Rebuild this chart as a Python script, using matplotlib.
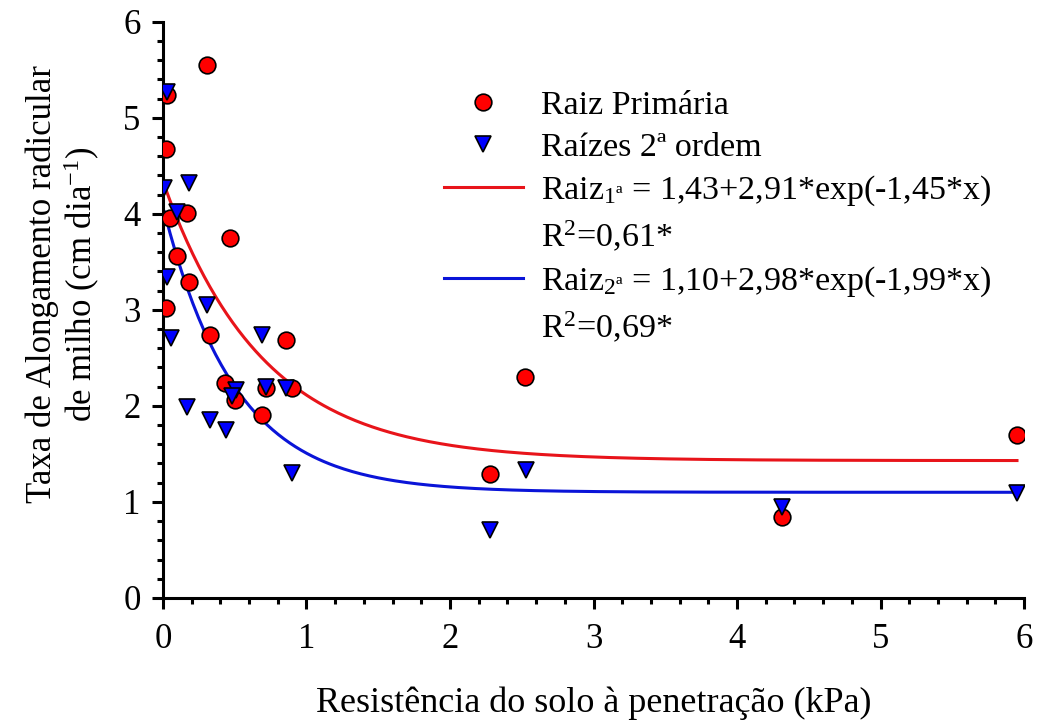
import numpy as np
import matplotlib
matplotlib.use("Agg")
import matplotlib.pyplot as plt
from matplotlib.lines import Line2D

plt.rcParams['font.family'] = ['Liberation Serif', 'DejaVu Serif']
plt.rcParams['mathtext.fontset'] = 'custom'
plt.rcParams['mathtext.rm'] = 'Liberation Serif'
plt.rcParams['mathtext.it'] = 'Liberation Serif:italic'

# Raiz primaria
x_prim = [0.31, 0.03, 0.02, 0.17, 0.05, 0.47, 0.10, 0.18, 0.02, 0.33, 0.86,
          0.43, 0.50, 0.72, 0.90, 0.69, 2.28, 2.52, 4.31, 5.95]
y_prim = [5.55, 5.24, 4.67, 4.01, 3.96, 3.75, 3.56, 3.29, 3.02, 2.74, 2.69,
          2.24, 2.06, 2.19, 2.19, 1.90, 1.29, 2.30, 0.84, 1.70]

# Raizes 2a ordem
x_sec = [0.03, 0.01, 0.18, 0.10, 0.03, 0.31, 0.06, 0.69, 0.51, 0.48, 0.72,
         0.86, 0.17, 0.33, 0.44, 0.90, 2.28, 2.53, 4.31, 5.95]
y_sec = [5.27, 4.27, 4.32, 4.02, 3.34, 3.05, 2.71, 2.74, 2.17, 2.10, 2.20,
         2.19, 1.99, 1.85, 1.75, 1.30, 0.71, 1.33, 0.95, 1.09]

# ajustes exponenciais
a1, b1, c1 = 1.43, 2.91, 1.45
a2, b2, c2 = 1.10, 2.98, 1.99

xx = np.linspace(0.01, 5.95, 300)
yy1 = a1 + b1*np.exp(-c1*xx)
yy2 = a2 + b2*np.exp(-c2*xx)

fig = plt.figure(figsize=(10.44, 7.23), dpi=100)
ax = fig.add_axes([0.156, 0.173, 0.825, 0.797])

ax.plot(xx, yy1, color='#e8141a', lw=2.2, zorder=2)
ax.plot(xx, yy2, color='#0a14d8', lw=2.2, zorder=2)
ax.plot(x_prim, y_prim, 'o', ms=12, mfc='#ff0000', mec='black', mew=1.2, zorder=3)
ax.plot(x_sec, y_sec, 'v', ms=12, mfc='#0000ff', mec='black', mew=1.2, zorder=4)

ax.set_xlim(0, 6)
ax.set_ylim(0, 6)
ax.set_xticks(range(7))
ax.set_yticks(range(7))
ax.set_xticks(np.arange(0, 6.01, 0.2), minor=True)
ax.set_yticks(np.arange(0, 6.01, 0.2), minor=True)
for s in ['top', 'right']:
    ax.spines[s].set_visible(False)
for s in ['left', 'bottom']:
    ax.spines[s].set_linewidth(2.2)
ax.tick_params(which='major', length=8, width=2.2, labelsize=25, direction='out')
ax.tick_params(which='minor', length=4, width=2.2, direction='out')
ax.tick_params(axis='x', pad=10)
ax.tick_params(axis='y', pad=8)
for lb in ax.get_xticklabels() + ax.get_yticklabels():
    lb.set_clip_on(False)

ax.set_xlabel('Resistência do solo à penetração (kPa)', fontsize=26, labelpad=22)
ax.set_ylabel('Taxa de Alongamento radicular\nde milho (cm dia$^{-1}$)', fontsize=25,
              linespacing=1.1)
ax.yaxis.set_label_coords(-0.071, 0.545)

handles = [
    Line2D([], [], ls='none', marker='o', ms=12, mfc='#ff0000', mec='black', mew=1.2),
    Line2D([], [], ls='none', marker='v', ms=12, mfc='#0000ff', mec='black', mew=1.2),
    Line2D([], [], color='#e8141a', lw=2.2),
    Line2D([], [], ls='none'),
    Line2D([], [], color='#0a14d8', lw=2.2),
    Line2D([], [], ls='none'),
]
labels = [
    'Raiz Primária',
    'Raízes 2ª ordem',
    'Raiz$_{\\mathrm{1ª}}$ = 1,43+2,91*exp(-1,45*x)',
    'R$^{2}$=0,61*',
    'Raiz$_{\\mathrm{2ª}}$ = 1,10+2,98*exp(-1,99*x)',
    'R$^{2}$=0,69*',
]
ax.legend(handles, labels, loc='upper left', bbox_to_anchor=(0.311, 0.905),
          frameon=False, fontsize=24.5, handlelength=2.3, handletextpad=0.55,
          labelspacing=0.32, borderaxespad=0)

fig.savefig('out.png', dpi=100)
